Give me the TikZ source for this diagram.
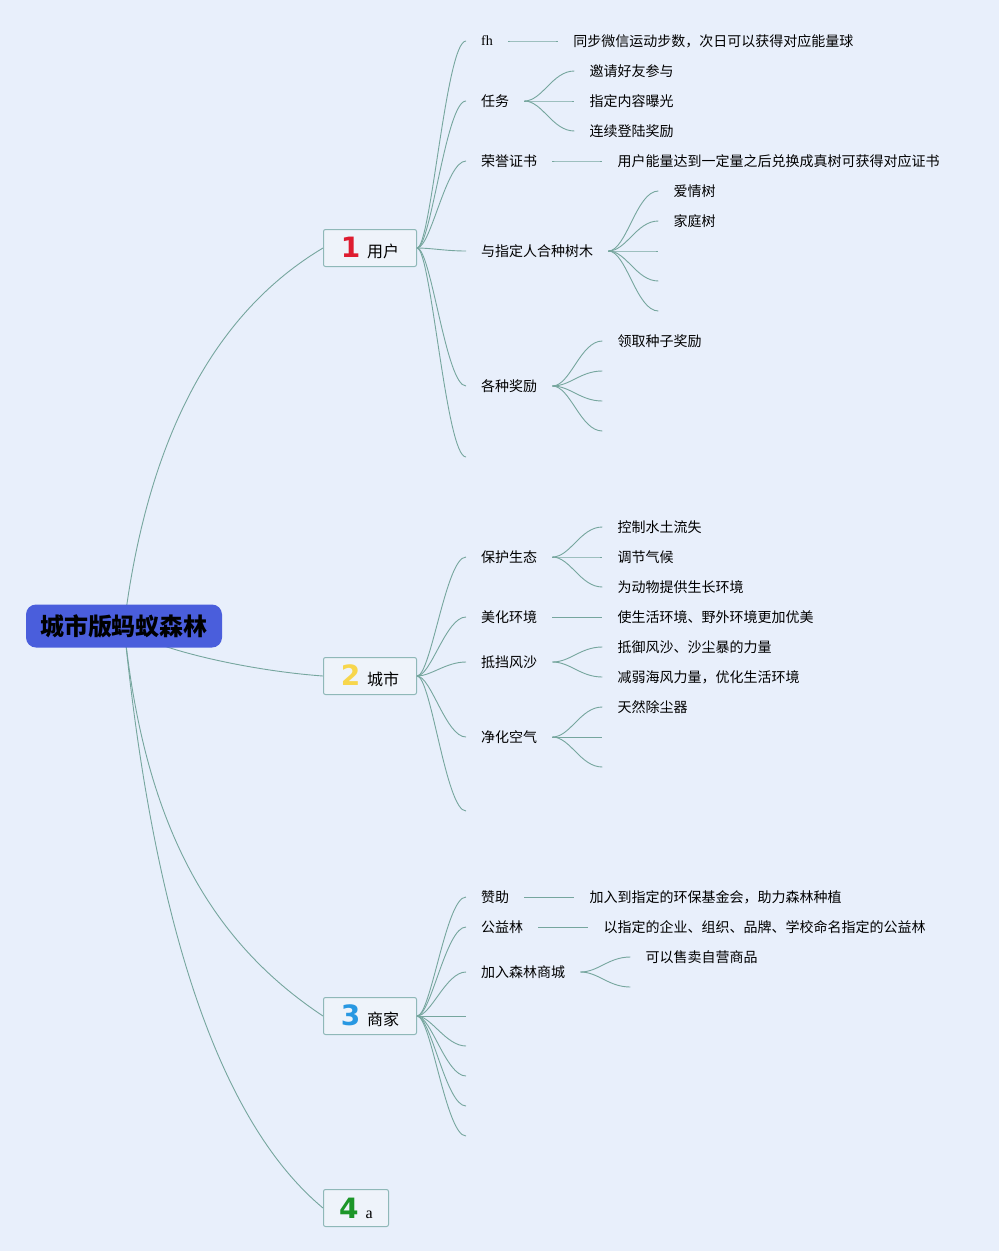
\documentclass[tikz,border=0pt]{standalone}
\usepackage{fontspec}
\setmainfont{Liberation Serif}
\newfontfamily\cjk{Noto Sans CJK SC}
\newfontfamily\ziffer{DejaVu Sans}
\usepackage{tikz}
\usetikzlibrary{positioning,backgrounds}
\definecolor{hintergrund}{RGB}{232,239,251}
\definecolor{kastenfill}{RGB}{238,243,250}
\definecolor{kastenrand}{RGB}{143,184,184}
\definecolor{linie}{RGB}{118,166,158}
\definecolor{wurzelblau}{RGB}{74,94,220}
\definecolor{zrot}{RGB}{222,28,48}
\definecolor{zgelb}{RGB}{247,214,76}
\definecolor{zblau}{RGB}{40,152,226}
\definecolor{zgruen}{RGB}{28,150,40}
\newcommand{\nummer}[2]{{\ziffer\bfseries\fontsize{28}{28}\selectfont\color{#1}#2}\hspace{7pt}}
\tikzset{
  wurzel/.style={
    rectangle,
    rounded corners=10pt,
    fill=wurzelblau,
    minimum width=196pt,
    minimum height=43pt,
    inner sep=0pt,
    font=\cjk\bfseries\fontsize{24}{28}\selectfont},
  haupt/.style={
    rectangle,
    rounded corners=2pt,
    draw=kastenrand, line width=1pt,
    fill=kastenfill,
    minimum width=93pt,
    minimum height=37pt,
    inner sep=0pt,
    anchor=west,
    font=\cjk\fontsize{16}{19}\selectfont},
  ast/.style={
    inner xsep=15pt, inner ysep=2pt,
    anchor=west,
    font=\cjk\fontsize{14}{16}\selectfont},
  zweig/.style={draw=linie, line width=0.9pt},
  node distance=50pt,
}

\begin{document}
\begin{tikzpicture}[x=1pt,y=-1pt]
  \useasboundingbox (0,0) rectangle (999,1251);
  % Mitte und erste Ebene
  \node[wurzel] (root) at (124,626) {城市版蚂蚁森林};
  \node[haupt] (user) at (323,248) {\nummer{zrot}{1}用户};
  \node[haupt] (city) at (323,676) {\nummer{zgelb}{2}城市};
  \node[haupt] (shop) at (323,1016) {\nummer{zblau}{3}商家};
  \node[haupt, minimum width=65pt] (misc) at (323,1208) {\nummer{zgruen}{4}{\rmfamily a}};
  \begin{scope}[on background layer]
    \fill[hintergrund] (0,0) rectangle (999,1251);
    \draw[zweig] (root.center) .. controls (147,439) and (214,313) .. (user.west);
    \draw[zweig] (root.center) .. controls (140,645) and (240,670) .. (city.west);
    \draw[zweig] (root.center) .. controls (144,825) and (210,941) .. (shop.west);
    \draw[zweig] (root.center) .. controls (154,929) and (221,1123) .. (misc.west);
  \end{scope}

  % Benutzer
  \node[ast] (fh) at (466,41) {\rmfamily fh};
  \node[ast] (task) at (466,101) {任务};
  \node[ast] (honor) at (466,161) {荣誉证书};
  \node[ast] (tree) at (466,251) {与指定人合种树木};
  \node[ast] (prize) at (466,386) {各种奖励};
  \node[ast] (uend) at (466,457) {};
  \node[ast] (fh1) [right=of fh] {同步微信运动步数，次日可以获得对应能量球};
  \node[ast] (task1) [right=of task, yshift=30pt] {邀请好友参与};
  \node[ast] (task2) [right=of task] {指定内容曝光};
  \node[ast] (task3) [right=of task, yshift=-30pt] {连续登陆奖励};
  \node[ast] (honor1) [right=of honor] {用户能量达到一定量之后兑换成真树可获得对应证书};
  \node[ast] (tree1) [right=of tree, yshift=60pt] {爱情树};
  \node[ast] (tree2) [right=of tree, yshift=30pt] {家庭树};
  \node[ast] (tree3) [right=of tree] {};
  \node[ast] (tree4) [right=of tree, yshift=-30pt] {};
  \node[ast] (tree5) [right=of tree, yshift=-60pt] {};
  \node[ast] (prize1) [right=of prize, yshift=45pt] {领取种子奖励};
  \node[ast] (prize2) [right=of prize, yshift=15pt] {};
  \node[ast] (prize3) [right=of prize, yshift=-15pt] {};
  \node[ast] (prize4) [right=of prize, yshift=-45pt] {};

  % Stadt
  \node[ast] (eco) at (466,557) {保护生态};
  \node[ast] (pretty) at (466,617) {美化环境};
  \node[ast] (sand) at (466,662) {抵挡风沙};
  \node[ast] (air) at (466,737) {净化空气};
  \node[ast] (cend) at (466,811) {};
  \node[ast] (eco1) [right=of eco, yshift=30pt] {控制水土流失};
  \node[ast] (eco2) [right=of eco] {调节气候};
  \node[ast] (eco3) [right=of eco, yshift=-30pt] {为动物提供生长环境};
  \node[ast] (pretty1) [right=of pretty] {使生活环境、野外环境更加优美};
  \node[ast] (sand1) [right=of sand, yshift=15pt] {抵御风沙、沙尘暴的力量};
  \node[ast] (sand2) [right=of sand, yshift=-15pt] {减弱海风力量，优化生活环境};
  \node[ast] (air1) [right=of air, yshift=30pt] {天然除尘器};
  \node[ast] (air2) [right=of air] {};
  \node[ast] (air3) [right=of air, yshift=-30pt] {};

  % Haendler
  \node[ast] (fund) at (466,897) {赞助};
  \node[ast] (wood) at (466,927) {公益林};
  \node[ast] (mall) at (466,972) {加入森林商城};
  \node[ast] (send1) at (466,1016) {};
  \node[ast] (send2) at (466,1046) {};
  \node[ast] (send3) at (466,1076) {};
  \node[ast] (send4) at (466,1106) {};
  \node[ast] (send5) at (466,1136) {};
  \node[ast] (fund1) [right=of fund] {加入到指定的环保基金会，助力森林种植};
  \node[ast] (wood1) [right=of wood] {以指定的企业、组织、品牌、学校命名指定的公益林};
  \node[ast] (mall1) [right=of mall, yshift=15pt] {可以售卖自营商品};
  \node[ast] (mall2) [right=of mall, yshift=-15pt] {};

  % Verbindungen
  \foreach \k in {fh,task,honor,tree,prize,uend}
    \draw[zweig] (user.east) .. controls +(14,0) and +(-20,0) .. (\k.west);
  \foreach \k in {eco,pretty,sand,air,cend}
    \draw[zweig] (city.east) .. controls +(14,0) and +(-20,0) .. (\k.west);
  \foreach \k in {fund,wood,mall,send1,send2,send3,send4,send5}
    \draw[zweig] (shop.east) .. controls +(14,0) and +(-20,0) .. (\k.west);
  \foreach \a/\b in {fh/fh1,task/task1,task/task2,task/task3,honor/honor1,
      tree/tree1,tree/tree2,tree/tree3,tree/tree4,tree/tree5,
      prize/prize1,prize/prize2,prize/prize3,prize/prize4,
      eco/eco1,eco/eco2,eco/eco3,pretty/pretty1,sand/sand1,sand/sand2,
      air/air1,air/air2,air/air3,fund/fund1,wood/wood1,mall/mall1,mall/mall2}
    \draw[zweig] (\a.east) .. controls +(18,0) and +(-22,0) .. (\b.west);
\end{tikzpicture}
\end{document}
